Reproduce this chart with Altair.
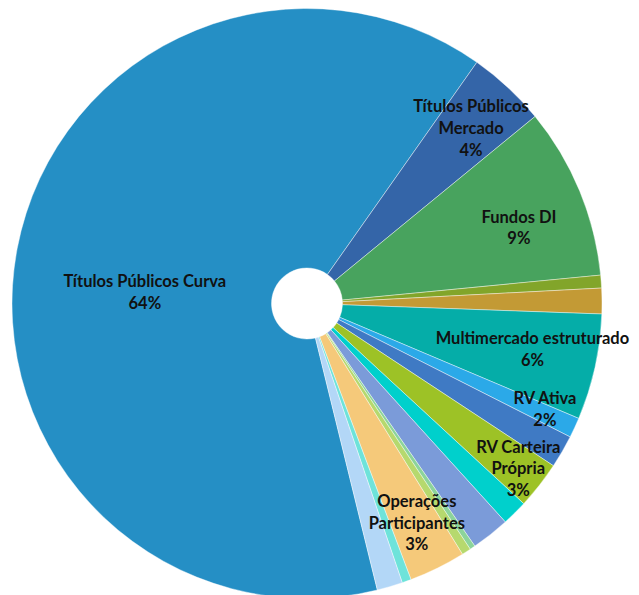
import altair as alt
import pandas as pd
import math

# Slice order (clockwise, starting at the lower edge of the big slice)
categories = [
    "Títulos Públicos Curva", "Títulos Públicos Mercado", "Fundos DI", "Outros A",
    "Outros B", "Multimercado estruturado", "Outros C", "RV Ativa",
    "RV Carteira Própria", "Outros D", "Outros E", "Outros F", "Outros G",
    "Operações Participantes", "Outros H", "Outros I",
]
values = [63.6, 4.3, 9.4, 0.7, 1.4, 5.8, 1.1, 1.8, 2.6, 1.4, 2.1, 0.3, 0.5, 3.1, 0.5, 1.4]
label_names = {
    "Títulos Públicos Curva": "Títulos Públicos Curva",
    "Títulos Públicos Mercado": "Títulos Públicos\nMercado",
    "Fundos DI": "Fundos DI",
    "Multimercado estruturado": "Multimercado estruturado",
    "RV Ativa": "RV Ativa",
    "RV Carteira Própria": "RV Carteira\nPrópria",
    "Operações Participantes": "Operações\nParticipantes",
}
colors = [
    "#258FC5", "#3465A8", "#48A35E", "#82A52A", "#C39A35", "#05ADA8", "#2BA9E8",
    "#3F7AC4", "#9DC226", "#00D0CC", "#7B9BD9", "#8CD49B", "#B6D96E", "#F5C97A",
    "#6EE3DA", "#B3D7F7",
]

total = sum(values)
labels = []
for c, v in zip(categories, values):
    if c in label_names:
        labels.append(label_names[c] + "\n" + f"{int(v / total * 100 + 0.5)}%")
    else:
        labels.append("")

df = pd.DataFrame({"cat": categories, "value": values, "ord": list(range(len(categories))), "label": labels})

start = math.radians(166.2)

base = alt.Chart(df).encode(
    theta=alt.Theta("value:Q", stack=True, scale=alt.Scale(range=[start, start + 2 * math.pi])),
    order=alt.Order("ord:Q"),
)

arcs = base.mark_arc(outerRadius=295, innerRadius=35.5, stroke="#ffffff", strokeWidth=0.6, strokeOpacity=0.7).encode(
    color=alt.Color("cat:N", scale=alt.Scale(domain=categories, range=colors), legend=None, sort=None),
)


def label_layer(name, radius, dx=0, dy=0):
    return base.transform_calculate(
        show=f"datum.cat === '{name}' ? datum.label : ''"
    ).mark_text(
        radius=radius, dx=dx, dy=dy + 3.5, font="Lato", fontWeight="bold", fontSize=16.5,
        lineBreak="\n", lineHeight=21.7, color="#111111", align="center", baseline="middle",
    ).encode(text="show:N")


layers = [arcs,
          label_layer("Títulos Públicos Curva", 165, 0, 6),
          label_layer("Títulos Públicos Mercado", 241, 0, -23),
          label_layer("Fundos DI", 226, 3, -3),
          label_layer("Multimercado estruturado", 236, -5, -19),
          label_layer("RV Ativa", 260, 13, -38),
          label_layer("RV Carteira Própria", 267, 1, -24),
          label_layer("Operações Participantes", 244, 2, -24)]

chart = alt.layer(*layers).properties(
    width=598, height=591,
    padding={"left": 0, "top": 0, "right": 25, "bottom": 0},
    autosize=alt.AutoSizeParams(type="none"),
    background="white",
).configure_view(stroke=None)

chart.save("out.html", embed_options={"renderer": "svg", "actions": False})
